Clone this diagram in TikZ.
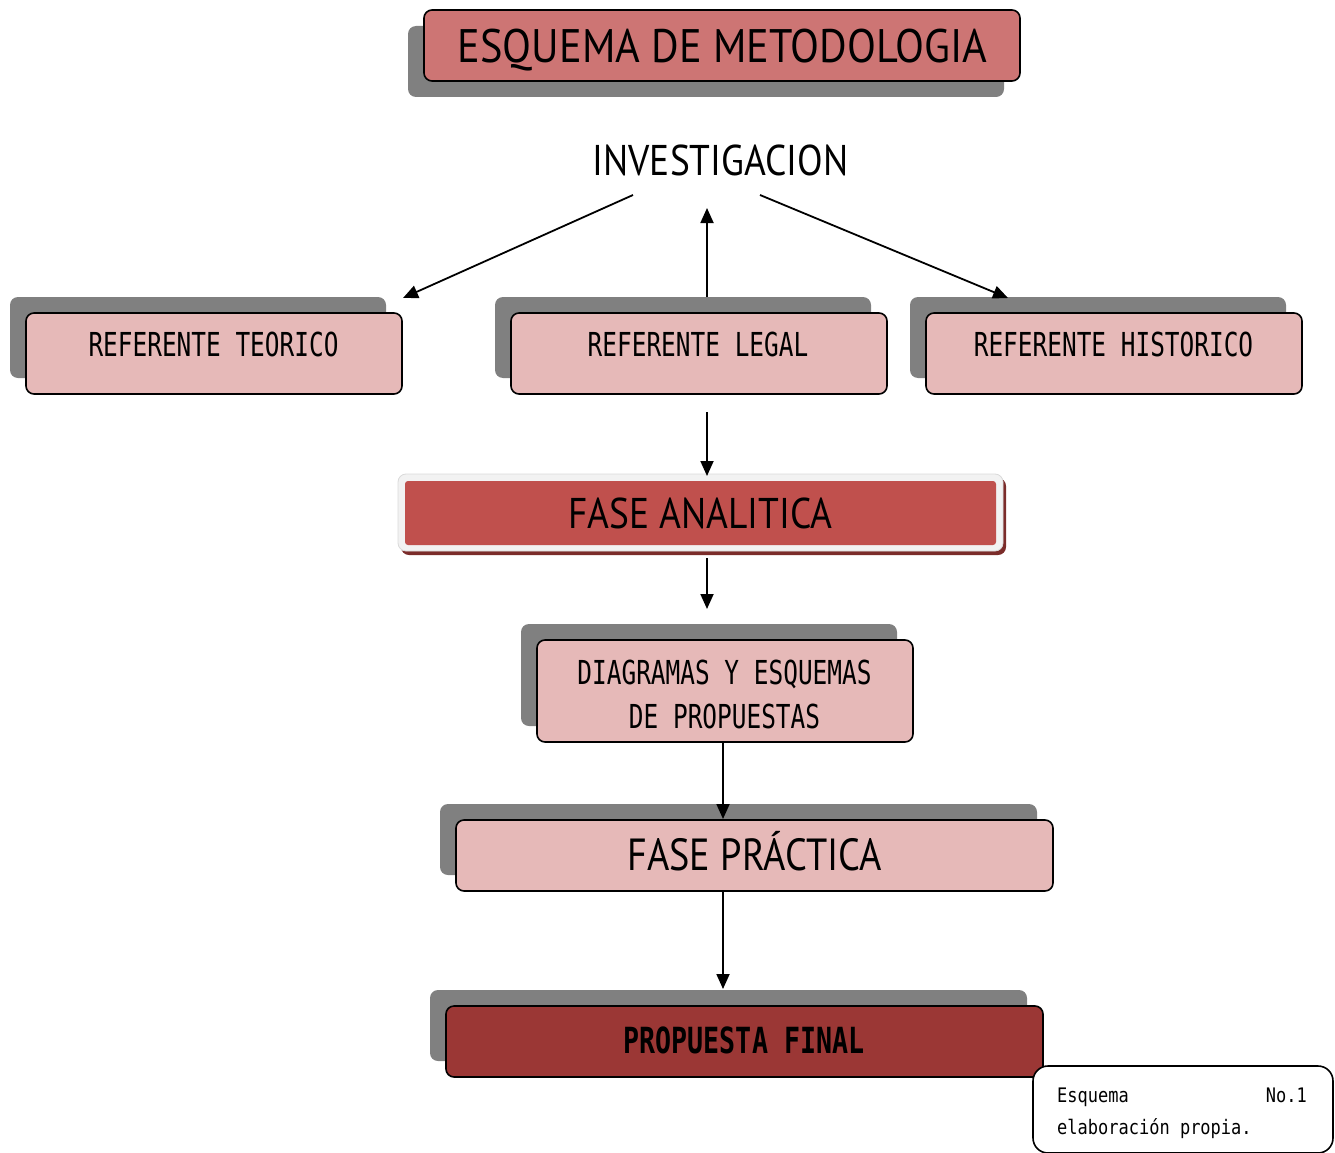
\documentclass[tikz,border=0pt]{standalone}
\usepackage{fontspec}
\usetikzlibrary{arrows.meta,shadows,calc}
\newfontfamily\hfont[FakeStretch=0.87]{PT Sans}
\newfontfamily\pfont[FakeStretch=0.85]{PT Sans}
\newfontfamily\tfont[FakeStretch=0.9]{PT Sans}
\newfontfamily\mfont[FakeStretch=0.74]{DejaVu Sans Mono}
\newfontfamily\nfont[FakeStretch=0.85]{DejaVu Sans Mono}
\definecolor{titlec}{HTML}{CD7574}
\definecolor{shadowc}{HTML}{808080}
\definecolor{pinkc}{HTML}{E6B9B8}
\definecolor{redc}{HTML}{C0504D}
\definecolor{darkredc}{HTML}{7B2C2A}
\definecolor{finalc}{HTML}{9B3735}
\definecolor{framec}{HTML}{F2F2F2}
\begin{document}
\begin{tikzpicture}[x=1pt,y=-1pt,
  plainbox/.style={draw=black, line width=1.6pt, rounded corners=8pt, fill=pinkc, inner sep=0pt},
  box/.style={plainbox,
    general shadow={shadow xshift=-16pt, shadow yshift=16pt, fill=shadowc, draw=none}},
  btext/.style={anchor=base, inner sep=0pt, font=\mfont\fontsize{33}{40}\selectfont},
  htext/.style={anchor=base, inner sep=0pt},
  arr/.style={line width=1.8pt, -{Triangle[length=15pt,width=13pt]}}
]
\useasboundingbox (0,0) rectangle (1335,1153);
% title
\node[plainbox, fill=titlec, minimum width=596pt, minimum height=71pt,
  general shadow={shadow xshift=-16pt, shadow yshift=-16pt, fill=shadowc, draw=none}] (title) at (722,45.5) {};
\node[htext, font=\tfont\fontsize{47}{56}\selectfont] (title-t) at (722.5,63) {ESQUEMA DE METODOLOGIA};
% investigacion
\node[htext, font=\hfont\fontsize{43}{52}\selectfont] (inv) at (720.5,175) {INVESTIGACION};
% referentes
\node[box, minimum width=376pt, minimum height=81pt] (teo) at (214,353.5) {};
\node[btext] (teo-t) at (213.5,356) {REFERENTE TEORICO};
\node[box, minimum width=376pt, minimum height=81pt] (leg) at (699,353.5) {};
\node[btext] (leg-t) at (698,356) {REFERENTE LEGAL};
\node[box, minimum width=376pt, minimum height=81pt] (his) at (1114,353.5) {};
\node[btext] (his-t) at (1113.5,356) {REFERENTE HISTORICO};
% fase analitica
\node[draw=black!15, line width=0.8pt, fill=framec, rounded corners=8pt, inner sep=0pt,
  minimum width=605pt, minimum height=77pt,
  general shadow={shadow xshift=3pt, shadow yshift=-4pt, fill=darkredc, draw=none}] (fa) at (700.5,512.5) {};
\node[fill=redc, rounded corners=3pt, inner sep=0pt, minimum width=591pt, minimum height=64pt] (fa-in) at (700.5,513) {};
\node[htext, font=\hfont\fontsize{43}{52}\selectfont] (fa-t) at (700.5,528) {FASE ANALITICA};
% diagramas
\node[box, minimum width=376pt, minimum height=102pt] (dia) at (725,691) {};
\node[btext] (dia-t1) at (724.5,684) {DIAGRAMAS Y ESQUEMAS};
\node[btext] (dia-t2) at (724.5,728) {DE PROPUESTAS};
% fase practica
\node[box, minimum width=597pt, minimum height=71pt] (fp) at (754.5,855.5) {};
\node[htext, font=\pfont\fontsize{45}{54}\selectfont] (fp-t) at (754.5,870) {FASE PRÁCTICA};
% propuesta final
\node[box, fill=finalc, minimum width=597pt, minimum height=71pt] (pf) at (744.5,1041.5) {};
\node[btext, font=\mfont\bfseries\fontsize{36}{44}\selectfont] (pf-t) at (744,1053) {PROPUESTA FINAL};
% note
\node[draw=black, line width=1.6pt, fill=white, rounded corners=15pt, inner sep=0pt,
  minimum width=300pt, minimum height=87pt] (note) at (1183,1109.5) {};
\node[htext, anchor=base west, font=\nfont\fontsize{20}{24}\selectfont] (note-t1) at (1057,1102) {Esquema};
\node[htext, anchor=base east, font=\nfont\fontsize{20}{24}\selectfont] (note-t2) at (1307,1102) {No.1};
\node[htext, anchor=base west, font=\nfont\fontsize{20}{24}\selectfont] (note-t3) at (1057,1134) {elaboración propia.};
% connector ends
\coordinate (c1s) at (633,195);
\coordinate (c1e) at (403,298);
\coordinate (c2s) at (707,297);
\coordinate (c2e) at (707,208);
\coordinate (c3s) at (760,195);
\coordinate (c3e) at (1008,298);
\coordinate (c4s) at (707,412);
\coordinate (c4e) at (707,476);
\coordinate (c5s) at (707,558);
\coordinate (c5e) at (707,609);
\coordinate (c6s) at (723,742);
\coordinate (c6e) at (723,819);
\coordinate (c7s) at (723,891);
\coordinate (c7e) at (723,989);
\draw[arr] (c1s) -- (c1e);
\draw[arr] (c2s) -- (c2e);
\draw[arr] (c3s) -- (c3e);
\draw[arr] (c4s) -- (c4e);
\draw[arr] (c5s) -- (c5e);
\draw[arr] (c6s) -- (c6e);
\draw[arr] (c7s) -- (c7e);
\end{tikzpicture}
\end{document}
